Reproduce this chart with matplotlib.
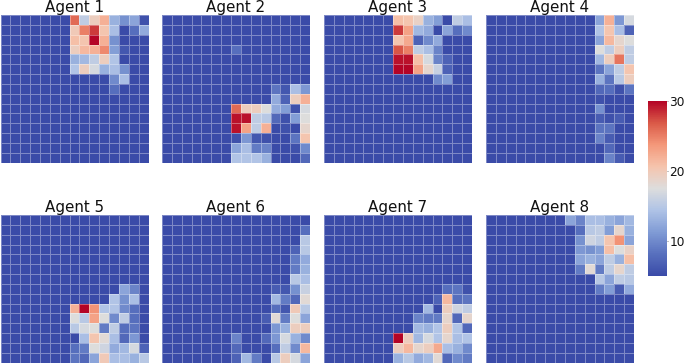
import numpy as np
import matplotlib
matplotlib.use("Agg")
import matplotlib.pyplot as plt
from matplotlib.colors import LinearSegmentedColormap

# each row only lists the right-hand cells, the rest of the row sits at the floor value
FLOOR = 5
VMAX = 30

agent1 = [
    [26, 15.5, 19.5, 22, 13, 10.5, 12, 5.5],
    [20, 25, 28, 20.5, 14, 5, 8, 12.5],
    [21, 20.5, 30, 22, 10.5, 5, 5, 5],
    [19.5, 21.5, 22, 24.5, 11.5, 6, 5, 5],
    [13, 13.5, 15.5, 19.5, 14.5, 5, 5, 5],
    [14.5, 19.5, 17, 13, 14, 10.5, 5, 5],
    [10, 14, 5, 5],
    [8, 5, 5, 5],
    [], [], [], [], [], [], [],
]
agent2 = [
    [], [], [],
    [8, 5, 5, 5, 5, 5, 5, 5],
    [], [], [],
    [8.5, 6, 14, 11],
    [12.5, 7, 19.5, 22],
    [26, 19.5, 19.5, 17.5, 12.5, 11.5, 5.5, 17],
    [29.5, 29.5, 15.5, 15, 7.5, 5.5, 11.5, 17.5],
    [29.5, 23, 15.5, 22, 5, 5.5, 5, 18.5],
    [5.5, 11, 6, 5.5, 5, 5, 8.5, 20.5],
    [12, 14, 9, 9.5, 5, 5, 5.5, 10],
    [14.5, 14.5, 14.5, 13, 5, 5, 5, 7.5],
]
agent3 = [
    [21, 20.5, 19, 13, 11.5, 5, 15.5, 14],
    [28, 23, 13.5, 12.5, 5, 12, 8, 10],
    [20.5, 22.5, 7, 10, 12.5, 5, 5, 5],
    [27, 25, 15.5, 14, 9.5, 5, 5, 5],
    [29.5, 29.5, 21, 17, 9.5, 7, 5, 5],
    [30, 30, 23, 18.5, 16, 7, 5, 5],
    [10, 11.5, 5, 5],
    [], [], [], [], [], [], [], [],
]
agent4 = [
    [12, 22, 11, 17],
    [14.5, 20.5, 14, 7],
    [12, 21.5, 18.5, 17.5],
    [17.5, 15.5, 19.5, 15.5],
    [13.5, 19.5, 25.5, 15.5],
    [8.5, 12, 15.5, 20.5],
    [13, 8.5, 15, 19.5],
    [7.5, 8, 5.5, 8.5],
    [5.5, 5, 5, 5],
    [10.5, 5, 5, 5],
    [6.5, 5.5, 6.5, 5],
    [8.5, 8.5, 5, 5],
    [9.5, 6.5, 5, 5],
    [5, 7.5, 5, 5],
    [5, 9.5, 6.5, 5],
]
agent5 = [
    [], [], [], [], [], [], [],
    [12, 9.5, 5],
    [14.5, 10.5, 14, 5],
    [22, 30, 24, 14.5, 14.5, 10, 8, 5],
    [17.5, 15, 23, 17.5, 10, 15.5, 8, 5],
    [15, 17, 17.5, 9, 15.5, 8, 8.5, 5],
    [5, 14, 20.5, 18, 14, 7.5, 11, 5],
    [8, 9, 17.5, 16.5, 12.5, 13.5, 17, 7],
    [8.5, 7.5, 12, 20, 14, 14, 13, 15],
]
agent6 = [
    [],
    [8],
    [15],
    [7, 15],
    [9, 12.5],
    [9, 13],
    [15, 14],
    [6.5, 6, 10.5, 16],
    [13.5, 9, 7.5, 18],
    [8, 6, 20, 15],
    [6.5, 18, 9, 17.5, 12],
    [11, 13, 19.5, 19.5],
    [9.5, 5, 5, 7.5, 11, 17, 13, 10],
    [7.5, 5, 5, 5, 8, 15.5, 10, 21.5],
    [7, 13.5, 9, 5, 15, 19.5, 17, 12],
]
agent7 = [
    [], [], [], [], [], [], [],
    [8, 8.5, 5.5],
    [7, 21.5, 8, 8.5],
    [13.5, 5, 19.5, 16.5, 15.5],
    [9.5, 9, 9, 18.5, 7.5, 18.5],
    [13.5, 13, 14.5, 19.5, 14.5, 7.5],
    [30, 19.5, 13.5, 17, 14.5, 18.5, 14, 14.5],
    [19.5, 21.5, 18.5, 19.5, 22.5, 14, 13, 10],
    [13, 15, 12.5, 13.5, 18, 7.5, 10, 9],
]
agent8 = [
    [12, 9.5, 14, 14, 13, 12, 13.5],
    [8, 15, 15.5, 11.5, 18.5, 13],
    [10.5, 16.5, 15.5, 20.5, 24, 12],
    [11, 10.5, 11.5, 21, 17.5, 19],
    [12, 13, 12, 15.5, 13, 21],
    [9, 18, 9, 15.5, 18.5, 15.5],
    [15, 12, 15.5, 15],
    [9, 11.5, 6.5, 12.5],
    [], [], [], [], [], [], [],
]
agents = [agent1, agent2, agent3, agent4, agent5, agent6, agent7, agent8]
titles = ["Agent 1", "Agent 2", "Agent 3", "Agent 4",
          "Agent 5", "Agent 6", "Agent 7", "Agent 8"]
cbar_ticks = [10, 20, 30]

# coolwarm as printed in the reference, the blues are duller than matplotlib's
muted = ["#3a4ba8", "#5870be", "#809bd5", "#afc3e6", "#dddddd",
         "#f5c4ad", "#f4987a", "#da5a48", "#b40426"]
cmap = LinearSegmentedColormap.from_list("muted_coolwarm", muted)

W, H = 685, 363


def px_axes(fig, x0, y0, x1, y1):
    # pixel box measured from the top left corner of the picture
    return fig.add_axes([x0 / W, 1 - y1 / H, (x1 - x0) / W, (y1 - y0) / H])


def to_grid(rows):
    grid = np.full((15, 15), float(FLOOR))
    for i, row in enumerate(rows):
        if row:
            grid[i, 15 - len(row):] = row
    return grid


fig = plt.figure(figsize=(W / 100, H / 100), dpi=100)

lefts = [0.5, 162, 324, 486]
tops = [15, 215]
for k, rows in enumerate(agents):
    x0 = lefts[k % 4]
    y0 = tops[k // 4]
    ax = px_axes(fig, x0, y0, x0 + 148, y0 + 147.5)
    ax.pcolormesh(to_grid(rows), cmap=cmap, vmin=FLOOR, vmax=VMAX,
                  edgecolors=(1, 1, 1, 0.35), linewidth=0.6)
    ax.invert_yaxis()
    ax.set_aspect("auto")
    ax.set_xticks([])
    ax.set_yticks([])
    for s in ax.spines.values():
        s.set_visible(False)
    ax.set_title(titles[k], fontsize=10.9, pad=1.8, color="#111111")

cax = px_axes(fig, 647.5, 101, 667, 276)
sm = plt.cm.ScalarMappable(norm=plt.Normalize(FLOOR, VMAX), cmap=cmap)
cb = fig.colorbar(sm, cax=cax, ticks=cbar_ticks)
cb.outline.set_visible(False)
cb.ax.tick_params(labelsize=8.7, length=1, width=0.5, pad=0.8,
                  color="#555555", labelcolor="#111111")

fig.savefig("out.png", dpi=100, facecolor="w")
